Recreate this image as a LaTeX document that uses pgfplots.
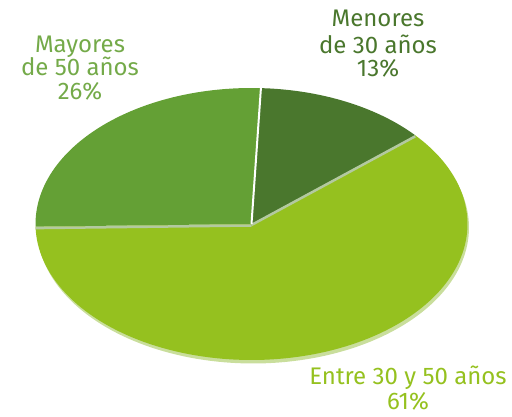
\documentclass[border=0pt]{standalone}
\usepackage{fontspec}
\setmainfont{Fira Sans}
\usepackage{pgfplots}
\pgfplotsset{compat=1.18}
\definecolor{menores}{HTML}{4A772D}
\definecolor{entre}{HTML}{95C11F}
\definecolor{mayores}{HTML}{64A035}
\definecolor{rim}{HTML}{C9DE9C}
\definecolor{seam}{HTML}{B3C9A0}

% shares in percent
\def\pMen{13}
\def\pEnt{61}
\def\pMay{26}

\tikzset{lbl/.style={font=\fontsize{24}{28}\selectfont, anchor=base, inner sep=0pt}}

\begin{document}
\begin{tikzpicture}
% ellipse geometry (pixel units of the axis)
\pgfmathsetmacro\cx{251.5}
\pgfmathsetmacro\cy{193}
\pgfmathsetmacro\rx{216}
\pgfmathsetmacro\ry{136}
\pgfmathsetmacro\aA{87.5}
\pgfmathsetmacro\aB{\aA-3.6*\pMen}
\pgfmathsetmacro\aC{\aB-3.6*\pEnt}
\pgfmathsetmacro\aD{\aC-3.6*\pMay}
\begin{axis}[
    width=512pt, height=417pt,
    scale only axis,
    xmin=0, xmax=512, ymin=0, ymax=417,
    hide axis,
    clip=false,
]
\path[use as bounding box] (rel axis cs:0,0) rectangle (rel axis cs:1,1);
% rim under the large slice
\addplot[fill=rim, draw=none, domain=\aC:\aB, samples=120]
    ({\cx+1.5+\rx*cos(x)}, {\cy-3.5+\ry*sin(x)}) -- (axis cs:\cx+1.5,\cy-3.5) -- cycle;
% slices
\addplot[fill=entre, draw=none, domain=\aC:\aB, samples=120]
    ({\cx+\rx*cos(x)}, {\cy+\ry*sin(x)}) -- (axis cs:\cx,\cy) -- cycle;
\addplot[fill=menores, draw=none, domain=\aB:\aA, samples=40]
    ({\cx+\rx*cos(x)}, {\cy+\ry*sin(x)}) -- (axis cs:\cx,\cy) -- cycle;
\addplot[fill=mayores, draw=none, domain=\aD:\aC, samples=60]
    ({\cx+\rx*cos(x)}, {\cy+\ry*sin(x)}) -- (axis cs:\cx,\cy) -- cycle;
% seams
\addplot[seam, line width=2.5pt, domain=0:1, samples=2]
    ({\cx+x*\rx*cos(\aB)}, {\cy-1+x*\ry*sin(\aB)});
\addplot[seam, line width=2.5pt, domain=0:1, samples=2]
    ({\cx+x*\rx*cos(\aC)}, {\cy-1.5+x*\ry*sin(\aC)});
\addplot[white, line width=2pt, domain=0:1, samples=2]
    ({\cx+x*\rx*cos(\aA)}, {\cy+x*\ry*sin(\aA)});

% labels
\node[lbl, text=mayores!90!white] at (axis cs:80,364) {Mayores};
\node[lbl, text=mayores!90!white] at (axis cs:80,341) {de 50 años};
\node[lbl, text=mayores!90!white] at (axis cs:80,317) {26\%};
\node[lbl, text=menores] at (axis cs:378,390) {Menores};
\node[lbl, text=menores] at (axis cs:378,363) {de 30 años};
\node[lbl, text=menores] at (axis cs:378,340) {13\%};
\node[lbl, text=entre] at (axis cs:408,32) {Entre 30 y 50 años};
\node[lbl, text=entre] at (axis cs:408,7) {61\%};
\end{axis}
\end{tikzpicture}
\end{document}
